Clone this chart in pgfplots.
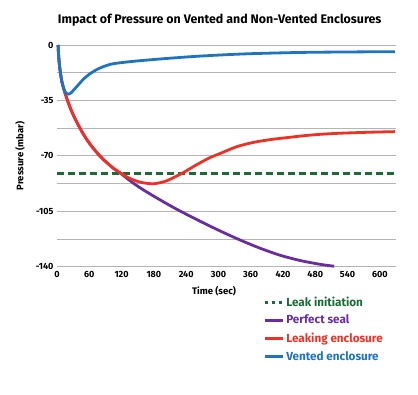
\documentclass[border=0pt]{standalone}
\usepackage{pgfplots}
\pgfplotsset{compat=1.18}
\usepackage{fontspec}
\setmainfont{Fira Sans}
\definecolor{leakgreen}{HTML}{1B6B36}
\definecolor{sealpurple}{HTML}{6A2D9F}
\definecolor{leakred}{HTML}{EE3124}
\definecolor{ventblue}{HTML}{1F74C1}
\definecolor{gridgray}{HTML}{B4B4B4}
\begin{document}
\begin{tikzpicture}
\begin{axis}[
  scale only axis, width=339pt, height=221.7pt,
  xmin=0, xmax=630, ymin=-140, ymax=0,
  axis line style={draw=none},
  major tick length=0pt, minor tick length=0pt,
  xtick={0,60,...,600},
  ytick={-140,-105,-70,-35,0},
  minor ytick={-122.5,-87.5,-52.5,-17.5},
  ymajorgrids, yminorgrids,
  grid style={gridgray, line width=0.9pt},
  minor grid style={gridgray, line width=0.9pt},
  /pgf/number format/assume math mode=true,
  ticklabel style={font=\bfseries\fontsize{9}{10}\selectfont},
  xticklabel style={yshift=-1pt},
  title={Impact of Pressure on Vented and Non-Vented Enclosures},
  title style={font=\bfseries\fontsize{12.4}{14}\selectfont, at={(axis description cs:0.48,1)}, anchor=center, yshift=18.5pt},
  xlabel={Time (sec)},
  xlabel style={font=\bfseries\fontsize{9.5}{11}\selectfont, at={(axis description cs:0.463,-0.11)}, anchor=center},
  ylabel={Pressure (mbar)},
  ylabel style={font=\bfseries\fontsize{9.5}{11}\selectfont, at={(axis description cs:-0.109,0.5)}, anchor=center},
  legend style={at={(axis description cs:0.608,-0.125)}, anchor=north west, draw=none, fill=none,
    font=\bfseries\fontsize{11.7}{13}\selectfont, row sep=3.5pt, inner sep=0pt, cells={anchor=west}},
  legend image code/.code={\draw[#1] (0pt,0pt) -- (18pt,0pt);},
  legend cell align=left,
  clip=false,
]
\coordinate (ll) at (rel axis cs:0,0);
\coordinate (ur) at (rel axis cs:1,1);
\addplot[leakgreen, line width=3pt, dash pattern=on 7pt off 4pt, legend image post style={dash pattern=on 3pt off 4pt}] coordinates {(0,-81) (630,-81)};
\addlegendentry{\textcolor{leakgreen}{Leak initiation}}
\addplot[sealpurple, line width=2.8pt, smooth] coordinates {
(2,0) (3,-6.5) (4.5,-12.5) (6.5,-18) (9,-23) (12,-27) (16,-31.5) (20,-35.5) (25,-40) (30,-44) (34,-46.8) (40,-50.8) (46.4,-54.8) (55,-59.5) (65,-64.2) (75,-68.3) (84,-71.6) (95,-75) (105,-77.9) (118,-81) (130,-84.2) (145,-88) (161,-91.6) (190,-97.5) (223,-103.8) (266,-111.3) (303,-117.4) (340,-123.1) (378,-128.4) (415,-132.8) (452,-136.1) (489,-138.5) (515,-139.7)};
\addlegendentry{\textcolor{sealpurple}{Perfect seal}}
\addplot[leakred, line width=2.8pt, smooth] coordinates {
(2,0) (3,-6.5) (4.5,-12.5) (6.5,-18) (9,-23) (12,-27) (16,-31.5) (20,-35.5) (25,-40) (30,-44) (34,-46.8) (40,-50.8) (46.4,-54.8) (55,-59.5) (65,-64.2) (75,-68.3) (84,-71.6) (95,-75) (105,-77.9) (118,-80.8) (130,-83.3) (145,-85.6) (160,-87) (180,-87.6) (200,-86.2) (215,-84) (235,-80.5) (260,-75.5) (285,-71) (304,-68.4) (334,-64.2) (365,-61.5) (395,-59.8) (427,-58.5) (458,-57.3) (489,-56.4) (520,-55.8) (551,-55.4) (590,-55) (628,-54.7)};
\addlegendentry{\textcolor{leakred}{Leaking enclosure}}
\addplot[ventblue, line width=2.8pt, smooth] coordinates {
(2,0) (3,-6.5) (4.5,-12.5) (6.5,-18) (9,-23) (12,-27) (15,-29.5) (18,-30.7) (21.6,-31) (25,-30.5) (30,-28.8) (40,-25) (50,-21.3) (62,-18) (75,-15.3) (90,-13.2) (105,-11.8) (142,-10.3) (200,-8.6) (266,-7) (350,-5.6) (452,-4.7) (540,-4.4) (628,-4.2)};
\addlegendentry{\textcolor{ventblue}{Vented enclosure}}
\end{axis}
\pgfresetboundingbox
\path[use as bounding box] ([shift={(-57pt,-127.3pt)}]ll) rectangle ([shift={(22pt,45pt)}]ur);
\end{tikzpicture}
\end{document}
